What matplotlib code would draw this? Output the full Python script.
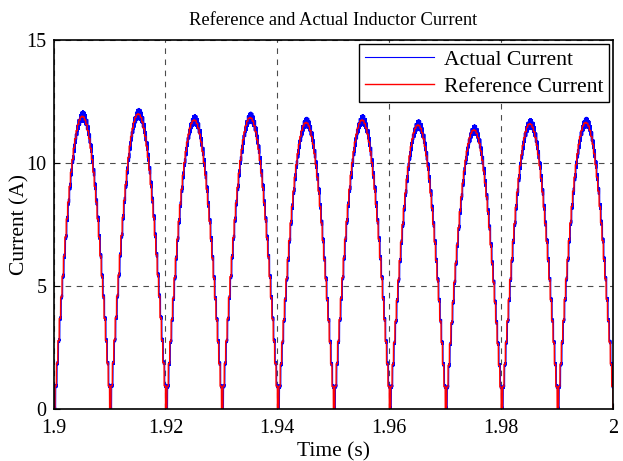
import numpy as np
import matplotlib
matplotlib.use("Agg")
from matplotlib import pyplot as plt

plt.rcParams['font.family'] = ['Liberation Serif', 'DejaVu Serif']

# half-cycle start times (s) and peak currents (A)
cycleStart = [1.90, 1.91, 1.92, 1.93, 1.94, 1.95, 1.96, 1.97, 1.98, 1.99]
peakCurrent = [11.9, 12.0, 11.75, 11.85, 11.65, 11.75, 11.55, 11.35, 11.6, 11.65]
halfPeriod = 0.01      # rectified 50 Hz
sampleStep = 0.00025   # reference is a sampled (stair) signal
rippleAmp = 0.22       # switching ripple on the actual current (at peak)
switchFreq = 20000

xTicks = [1.9, 1.92, 1.94, 1.96, 1.98, 2.0]
xTickLabels = ['1.9', '1.92', '1.94', '1.96', '1.98', '2']
yTicks = [0, 5, 10, 15]

# build the waveform
t = np.arange(1.9, 2.0, 5e-6)
tHeld = np.floor((t - 1.9) / sampleStep) * sampleStep + 1.9
idx = np.clip(((tHeld - 1.9) // halfPeriod).astype(int), 0, len(cycleStart) - 1)
amp = np.array(peakCurrent)[idx]
ref = amp * np.abs(np.sin(np.pi * (tHeld - 1.9) / halfPeriod))

# actual current lags the reference slightly and carries ripple
lag = 0.00012
tLag = np.floor((t - 1.9 - lag) / sampleStep) * sampleStep + 1.9
idxL = np.clip(((tLag - 1.9) // halfPeriod).astype(int), 0, len(cycleStart) - 1)
refLag = np.array(peakCurrent)[idxL] * np.abs(np.sin(np.pi * (tLag - 1.9) / halfPeriod))
tri = 2 * np.abs(2 * ((t * switchFreq) % 1) - 1) - 1
actual = refLag + rippleAmp * tri * (0.3 + 0.7 * (refLag / 12) ** 3)
actual = np.clip(actual, 0, None)

fig = plt.figure(figsize=(6.23, 4.61), dpi=100)
ax = fig.add_axes([0.086, 0.113, 0.898, 0.8])

ax.plot(t, actual, color='blue', lw=0.8, label='Actual Current')
ax.plot(t, ref, color='red', lw=1.0, label='Reference Current')

ax.set_xlim(1.9, 2.0)
ax.set_ylim(0, 15)
ax.set_xticks(xTicks)
ax.set_xticklabels(xTickLabels)
ax.set_yticks(yTicks)
ax.tick_params(labelsize=14.5, direction='in', length=4, width=0.8)
ax.tick_params(axis='x', pad=7)
ax.tick_params(axis='y', pad=5)
ax.grid(True, color='black', linestyle=(0, (5, 5)), lw=0.8, alpha=0.7)
for s in ax.spines.values():
    s.set_linewidth(1.2)

ax.set_xlabel('Time (s)', fontsize=15.5, labelpad=3)
ax.set_ylabel('Current (A)', fontsize=15.5, labelpad=-2)
ax.set_title('Reference and Actual Inductor Current', fontsize=13.3, pad=11)

leg = ax.legend(loc='upper right', fontsize=15.6, fancybox=False, framealpha=1,
                edgecolor='black', handlelength=3.2, borderpad=0.25,
                labelspacing=0.3, handletextpad=0.45, borderaxespad=0.2)
leg.get_frame().set_linewidth(1.0)

fig.savefig('out.png', dpi=100)
